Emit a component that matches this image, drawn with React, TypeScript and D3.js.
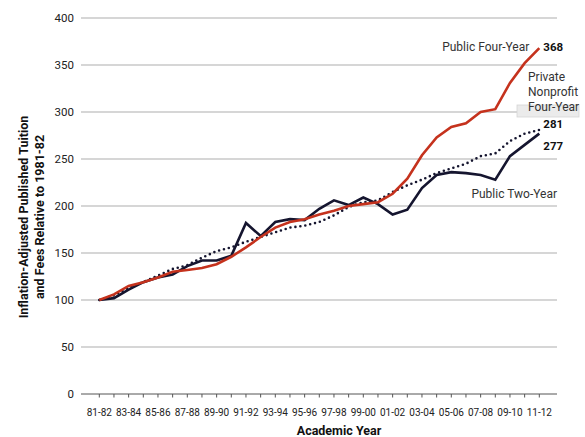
import React from 'react';
import * as d3 from 'd3';

// academic years 1981-82 .. 2011-12
const years: string[] = d3.range(81, 112).map(y => {
  const a = y % 100;
  const b = (y + 1) % 100;
  return `${String(a).padStart(2, '0')}-${String(b).padStart(2, '0')}`;
});

// tuition index, 1981-82 = 100
const publicFourYear: number[] = [100, 106, 115, 119, 124, 130, 132, 134, 138, 146, 156, 167, 177, 183, 186, 191, 195, 200, 202, 204, 213, 229, 254, 273, 284, 288, 300, 303, 331, 352, 368];
const publicTwoYear: number[] = [100, 102, 111, 119, 124, 127, 136, 142, 142, 147, 182, 168, 183, 186, 185, 197, 206, 201, 209, 202, 191, 196, 219, 233, 236, 235, 233, 228, 253, 265, 277];
const privateNonprofit: number[] = [100, 105, 113, 119, 126, 133, 137, 145, 152, 156, 162, 167, 172, 177, 179, 183, 190, 199, 204, 206, 215, 222, 228, 235, 240, 245, 253, 256, 269, 277, 281];

const yTicks: number[] = [0, 50, 100, 150, 200, 250, 300, 350, 400];

const W = 585;
const H = 437;
const FONT = "Roboto, 'Liberation Sans', sans-serif";
const RED = '#c5321d';
const NAVY = '#15152f';

const App: React.FC = () => {
  const x = d3.scaleLinear().domain([0, years.length - 1]).range([99.3, 539.3]);
  const y = d3.scaleLinear().domain([0, 400]).range([394, 18]);

  const line = d3.line<number>()
    .x((_, i) => x(i))
    .y(d => y(d));

  const last = years.length - 1;
  const lx = x(last);

  return (
    <svg width={W} height={H} style={{ position: 'absolute', left: 0, top: 0 }} fontFamily={FONT}>
      <rect width={W} height={H} fill="#fff" />

      {/* gridlines */}
      {yTicks.filter(t => t > 0).map(t => (
        <line key={t} x1={81} x2={557} y1={y(t)} y2={y(t)} stroke="#c9c9c9" strokeWidth={1.4} />
      ))}
      {yTicks.map(t => (
        <text key={t} x={74} y={y(t)} dy="0.36em" textAnchor="end" fontSize={11.5} fill="#222">{t}</text>
      ))}

      {/* x axis */}
      <line x1={81} x2={557} y1={y(0)} y2={y(0)} stroke="#555" strokeWidth={1} />
      {years.map((yr, i) => (
        <line key={yr} x1={x(i)} x2={x(i)} y1={y(0)} y2={y(0) + 3.5} stroke="#555" strokeWidth={1} />
      ))}
      {years.map((yr, i) => i % 2 === 0 ? (
        <text key={yr} x={x(i)} y={412.7} dy="0.36em" textAnchor="middle" fontSize={10} fill="#222">{yr}</text>
      ) : null)}

      <text x={339} y={430} dy="0.36em" textAnchor="middle" fontSize={12.5} fontWeight="bold" fill="#111">Academic Year</text>
      <g transform="translate(0,217) rotate(-90)">
        <text x={0} y={23} dy="0.36em" textAnchor="middle" fontSize={12.5} fontWeight="bold" fill="#111">Inflation-Adjusted Published Tuition</text>
        <text x={0} y={39} dy="0.36em" textAnchor="middle" fontSize={12.5} fontWeight="bold" fill="#111">and Fees Relative to 1981-82</text>
      </g>

      {/* series */}
      <path d={line(privateNonprofit) ?? ''} fill="none" stroke={NAVY} strokeWidth={2.6} strokeDasharray="0 5" strokeLinecap="round" />
      <path d={line(publicTwoYear) ?? ''} fill="none" stroke={NAVY} strokeWidth={2.6} />
      <path d={line(publicFourYear) ?? ''} fill="none" stroke={RED} strokeWidth={2.6} />

      {/* labels */}
      <text x={lx - 10} y={y(publicFourYear[last]) - 1} dy="0.36em" textAnchor="end" fontSize={12} fill="#333">Public Four-Year</text>
      <text x={lx + 4} y={y(publicFourYear[last]) - 1} dy="0.36em" fontSize={11.5} fontWeight="bold" fill="#111">{publicFourYear[last]}</text>

      <rect x={517} y={105} width={62} height={12} fill="#ebebeb" stroke="#d4d4d4" strokeWidth={0.8} />
      <text x={528} y={76.5} dy="0.36em" fontSize={12} fill="#333">Private</text>
      <text x={528} y={91.7} dy="0.36em" fontSize={12} fill="#333">Nonprofit</text>
      <text x={528} y={106.5} dy="0.36em" fontSize={12} fill="#333">Four-Year</text>
      <text x={lx + 4} y={y(privateNonprofit[last]) - 6} dy="0.36em" fontSize={11.5} fontWeight="bold" fill="#111">{privateNonprofit[last]}</text>
      <text x={lx + 4} y={y(publicTwoYear[last]) + 12.5} dy="0.36em" fontSize={11.5} fontWeight="bold" fill="#111">{publicTwoYear[last]}</text>

      <text x={557} y={194} dy="0.36em" textAnchor="end" fontSize={12} fill="#333">Public Two-Year</text>
    </svg>
  );
};

export default App;
